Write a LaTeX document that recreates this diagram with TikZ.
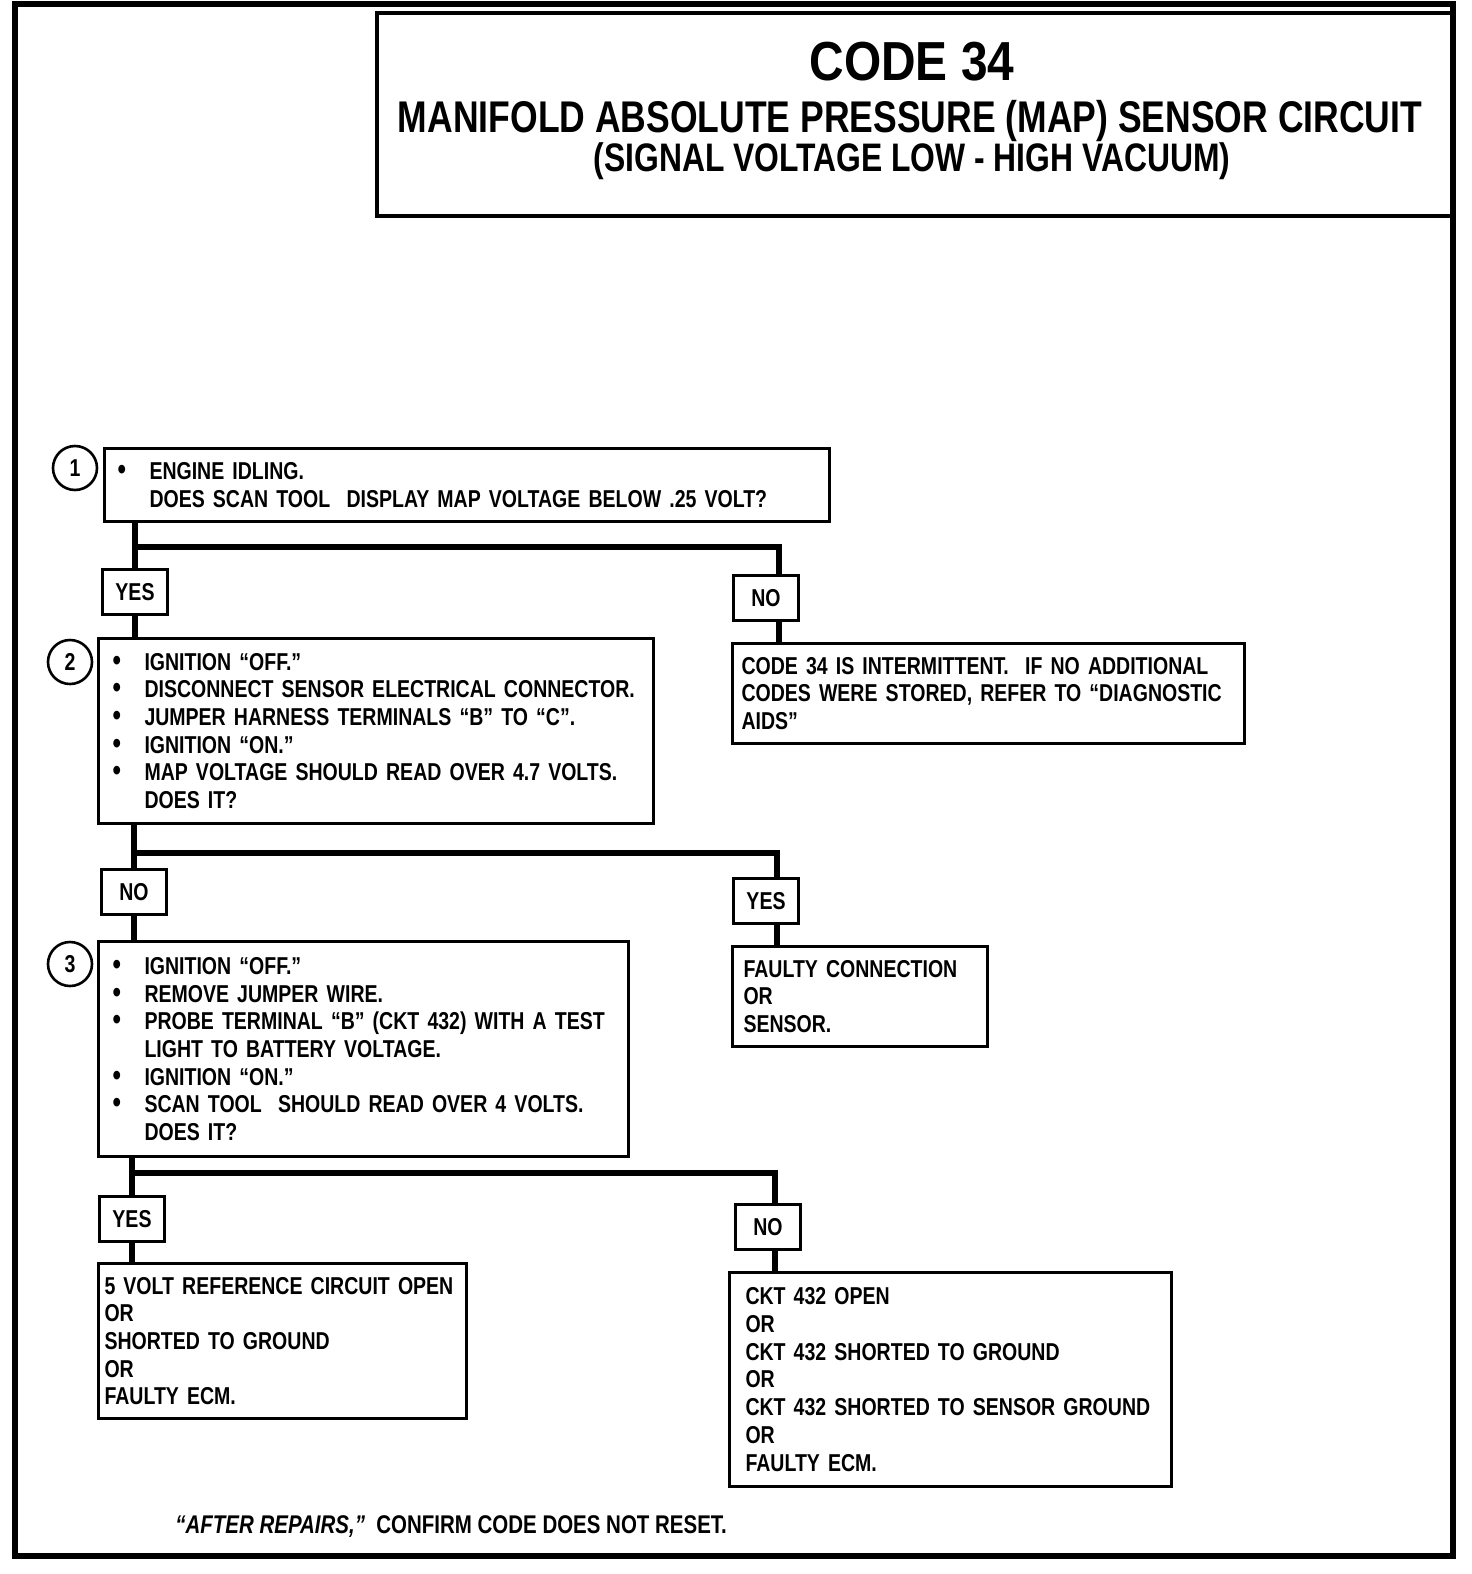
\documentclass[tikz,border=0pt]{standalone}
\usepackage{fontspec}
\setmainfont{Liberation Sans}[FakeStretch=0.8]
\newfontfamily\headfont{Liberation Sans}[FakeStretch=0.87]
\newcommand{\bodyfont}{\fontsize{12.2}{13.85}\selectfont\bfseries}
\newcommand{\bitem}{\makebox[16pt][l]{\fontsize{15}{0}\selectfont\textbullet}}
\newcommand{\bcont}{\hspace*{16pt}}
\tikzset{
  box/.style={draw, line width=1.5pt, anchor=north west, align=left, inner ysep=0pt, font=\bodyfont},
  tag/.style={draw, line width=1.5pt, minimum width=32.5pt, minimum height=22.5pt, inner sep=0pt, font=\bodyfont},
  num/.style={draw, circle, line width=1.3pt, minimum size=22pt, inner sep=0pt, font=\bodyfont},
  link/.style={line width=3.2pt},
}

\begin{document}
\begin{tikzpicture}[x=0.5pt, y=-0.5pt]
    \useasboundingbox (0,0) rectangle (1472,1574);
    % Frame
    \draw[line width=2.6pt] (15,4) rectangle (1453,1556);
    % Title block
    \draw[line width=1.8pt] (377,13) rectangle (1452,216);
    \node[inner sep=0pt, font=\fontsize{27.5}{30}\selectfont\headfont\bfseries] (code) at (912,62) {CODE 34};
    \node[inner sep=0pt, font=\fontsize{22.2}{24}\selectfont\bfseries] (title) at (910,121) {MANIFOLD ABSOLUTE PRESSURE (MAP) SENSOR CIRCUIT};
    \node[inner sep=0pt, font=\fontsize{19.9}{22}\selectfont\bfseries] (subtitle) at (912,161) {(SIGNAL VOLTAGE LOW - HIGH VACUUM)};
    % Step 1
    \node[num] (c1) at (75,468) {1};
    \node[box, text width=349.5pt, inner xsep=6.5pt, minimum height=36.5pt] (q1) at (103,447)
      {\bitem ENGINE IDLING.\\
       \bcont DOES SCAN TOOL\ \ DISPLAY MAP VOLTAGE BELOW .25 VOLT?};
    \node[tag] (y1) at (135,592) {YES};
    \node[tag] (n1) at (766,598) {NO};
    \node[box, text width=247pt, inner xsep=4.5pt, minimum height=50pt] (r1) at (731,642)
      {CODE 34 IS INTERMITTENT.\ \ IF NO ADDITIONAL\\
       CODES WERE STORED, REFER TO “DIAGNOSTIC\\
       AIDS”};
    % Step 2
    \node[num] (c2) at (70,662) {2};
    \node[box, text width=263.5pt, inner xsep=7pt, minimum height=92.5pt] (q2) at (97,637)
      {\bitem IGNITION “OFF.”\\
       \bitem DISCONNECT SENSOR ELECTRICAL CONNECTOR.\\
       \bitem JUMPER HARNESS TERMINALS “B” TO “C”.\\
       \bitem IGNITION “ON.”\\
       \bitem MAP VOLTAGE SHOULD READ OVER 4.7 VOLTS.\\
       \bcont DOES IT?};
    \node[tag] (n2) at (134,892) {NO};
    \node[tag] (y2) at (766,901) {YES};
    \node[box, text width=116.5pt, inner xsep=5.5pt, minimum height=50pt] (r2) at (731,945)
      {FAULTY CONNECTION\\
       OR\\
       SENSOR.};
    % Step 3
    \node[num] (c3) at (70,964) {3};
    \node[box, text width=251pt, inner xsep=7pt, minimum height=107.5pt] (q3) at (97,940)
      {\bitem IGNITION “OFF.”\\
       \bitem REMOVE JUMPER WIRE.\\
       \bitem PROBE TERMINAL “B” (CKT 432) WITH A TEST\\
       \bcont LIGHT TO BATTERY VOLTAGE.\\
       \bitem IGNITION “ON.”\\
       \bitem SCAN TOOL\ \ SHOULD READ OVER 4 VOLTS.\\
       \bcont DOES IT?};
    \node[tag] (y3) at (132,1219) {YES};
    \node[tag] (n3) at (768,1227) {NO};
    \node[box, text width=178pt, inner xsep=3pt, minimum height=77.5pt] (r3) at (97,1262)
      {5 VOLT REFERENCE CIRCUIT OPEN\\
       OR\\
       SHORTED TO GROUND\\
       OR\\
       FAULTY ECM.};
    \node[box, text width=205pt, inner xsep=8pt, minimum height=107pt] (r4) at (728,1271)
      {CKT 432 OPEN\\
       OR\\
       CKT 432 SHORTED TO GROUND\\
       OR\\
       CKT 432 SHORTED TO SENSOR GROUND\\
       OR\\
       FAULTY ECM.};
    % Footer
    \node[anchor=west, inner sep=0pt, font=\fontsize{12.8}{14}\selectfont\bfseries] (note) at (175,1527) {\textit{“AFTER REPAIRS,”}\ \ CONFIRM CODE DOES NOT RESET.};
    % Branches
    \coordinate (j1) at (135,547);
    \coordinate (k1) at (779,547);
    \coordinate (j2) at (134,853);
    \coordinate (k2) at (777,853);
    \coordinate (j3) at (132,1173);
    \coordinate (k3) at (775,1173);
    \draw[link] (q1.south -| y1) -- (y1.north);
    \draw[link] (y1.south) -- (y1.south |- q2.north);
    \draw[link] (j1) -- (k1) -- (k1 |- n1.north);
    \draw[link] (k1 |- n1.south) -- (k1 |- r1.north);
    \draw[link] (q2.south -| n2) -- (n2.north);
    \draw[link] (n2.south) -- (n2.south |- q3.north);
    \draw[link] (j2) -- (k2) -- (k2 |- y2.north);
    \draw[link] (k2 |- y2.south) -- (k2 |- r2.north);
    \draw[link] (q3.south -| y3) -- (y3.north);
    \draw[link] (y3.south) -- (y3.south |- r3.north);
    \draw[link] (j3) -- (k3) -- (k3 |- n3.north);
    \draw[link] (k3 |- n3.south) -- (k3 |- r4.north);
\end{tikzpicture}
\end{document}
